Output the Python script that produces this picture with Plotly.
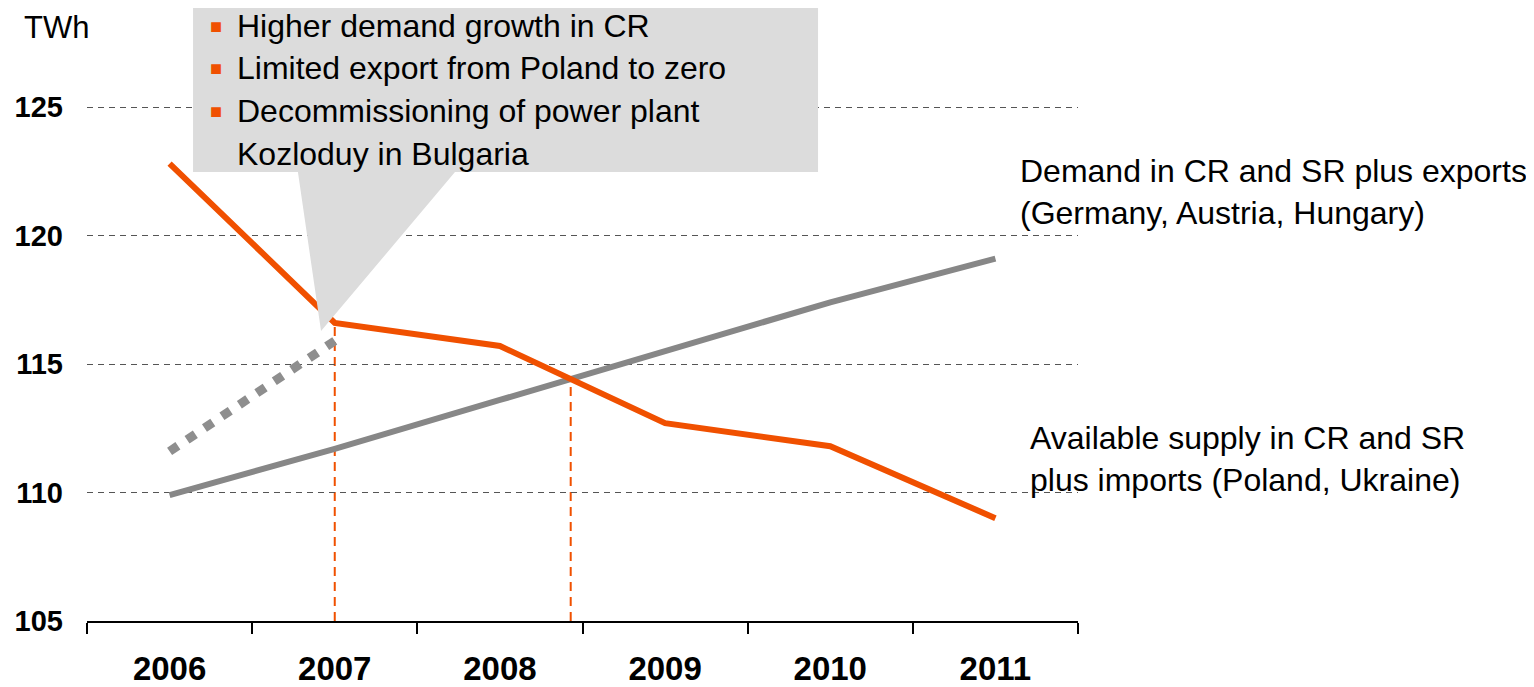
import plotly.graph_objects as go

years = ["2006", "2007", "2008", "2009", "2010", "2011"]
supply = [122.8, 116.6, 115.7, 112.7, 111.8, 109.0]      # Available supply in CR and SR plus imports
demand = [109.9, 111.7, 113.6, 115.5, 117.4, 119.1]      # Demand in CR and SR plus exports
demand_alt_years = ["2006", "2007"]
demand_alt = [111.6, 115.9]                               # dotted scenario
y_ticks = [105, 110, 115, 120, 125]
bullets = ["Higher demand growth in CR", "Limited export from Poland to zero",
           "Decommissioning of power plant"]
bullet_cont = "Kozloduy in Bulgaria"

ORANGE = "#F05000"
GRAY = "#878787"
FONT = "Liberation Sans, Arial, sans-serif"

# page body has an 8px margin: figure spans page x 8..1534, y 8..687
OFF = 8
PL, PR, PT, PB = 87, 1078, OFF, 621          # plot area in page pixels
PW, PH = PR - PL, PB - PT


def px(x):
    return (x - PL) / PW


def py(y):
    return 1 - (y - PT) / PH


xi = list(range(len(years)))
alt_x = [years.index(y) for y in demand_alt_years]

# intersection between 2008 and 2009
i = 2
t = (supply[i] - demand[i]) / ((supply[i] - demand[i]) - (supply[i + 1] - demand[i + 1]))
cross_x = i + t
cross_y = supply[i] + t * (supply[i + 1] - supply[i])

fig = go.Figure()
fig.add_trace(go.Scatter(x=alt_x, y=demand_alt, mode="lines",
                         line=dict(color="#8E8E8E", width=9, dash="10px,11px"),
                         hoverinfo="skip"))
fig.add_trace(go.Scatter(x=xi, y=demand, mode="lines",
                         line=dict(color=GRAY, width=6), name="Demand"))
fig.add_trace(go.Scatter(x=xi, y=supply, mode="lines",
                         line=dict(color=ORANGE, width=6), name="Supply"))

# vertical dashed markers
fig.add_shape(type="line", x0=1, x1=1, y0=105, y1=supply[1], xref="x", yref="y",
              line=dict(color=ORANGE, width=2, dash="9px,6px"), layer="below")
fig.add_shape(type="line", x0=cross_x, x1=cross_x, y0=105, y1=cross_y, xref="x", yref="y",
              line=dict(color=ORANGE, width=2, dash="9px,6px"), layer="below")

# callout box with pointer
path = ("M 0.142,129.5 L 3.926,129.5 L 3.926,122.47 L 1.728,122.47 "
        "L 0.917,116.28 L 0.777,122.47 L 0.142,122.47 Z")
fig.add_shape(type="path", path=path, xref="x", yref="y",
              fillcolor="#DCDCDC", line=dict(width=0), layer="above")

line_y = [26, 68, 111, 154]
for k, txt in enumerate(bullets + [bullet_cont]):
    fig.add_annotation(x=px(235), y=py(line_y[k]), xref="paper", yref="paper",
                       text=txt, showarrow=False, xanchor="left", yanchor="middle",
                       font=dict(family=FONT, size=32, color="#000000"))
    if k < len(bullets):
        fig.add_annotation(x=px(216), y=py(line_y[k]), xref="paper", yref="paper",
                           text="■", showarrow=False, xanchor="center", yanchor="middle",
                           font=dict(family=FONT, size=20, color=ORANGE))

fig.add_annotation(x=px(1018), y=py(192), xref="paper", yref="paper",
                   text="Demand in CR and SR plus exports<br>(Germany, Austria, Hungary)",
                   showarrow=False, xanchor="left", yanchor="middle", align="left",
                   font=dict(family=FONT, size=32, color="#000000"))
fig.add_annotation(x=px(1028), y=py(459), xref="paper", yref="paper",
                   text="Available supply in CR and SR<br>plus imports (Poland, Ukraine)",
                   showarrow=False, xanchor="left", yanchor="middle", align="left",
                   font=dict(family=FONT, size=32, color="#000000"))
fig.add_annotation(x=px(22), y=1, xref="paper", yref="paper", text="TWh",
                   showarrow=False, xanchor="left", yanchor="top", yshift=0,
                   font=dict(family=FONT, size=31, color="#000000"))

fig.update_layout(
    width=1534 - OFF, height=687 - OFF,
    margin=dict(l=PL - OFF, r=1534 - PR, t=0, b=687 - PB),
    paper_bgcolor="white", plot_bgcolor="white",
    showlegend=False,
    font=dict(family=FONT, color="#000000"),
    xaxis=dict(range=[-0.5, 5.5], tickmode="array", tickvals=xi, ticktext=years,
               ticks="", showgrid=False, zeroline=False, automargin=False,
               showline=True, linecolor="#000000", linewidth=2,
               tickfont=dict(family=FONT, size=33, color="#000000", weight="bold"),
               ticklabelstandoff=17,
               minor=dict(tickmode="array", tickvals=[v - 0.5 for v in range(len(years) + 1)],
                          ticks="outside", ticklen=11, tickwidth=2, tickcolor="#000000",
                          showgrid=False)),
    yaxis=dict(range=[105, 125 + (107 - PT) / 25.7], tickmode="array", tickvals=y_ticks,
               ticks="", zeroline=False, showline=False, automargin=False,
               showgrid=True, gridcolor="#555555", gridwidth=1, griddash="6px,5px",
               tickfont=dict(family=FONT, size=29, color="#000000", weight="bold"),
               ticklabelstandoff=23),
)

fig.write_html("out.html")
